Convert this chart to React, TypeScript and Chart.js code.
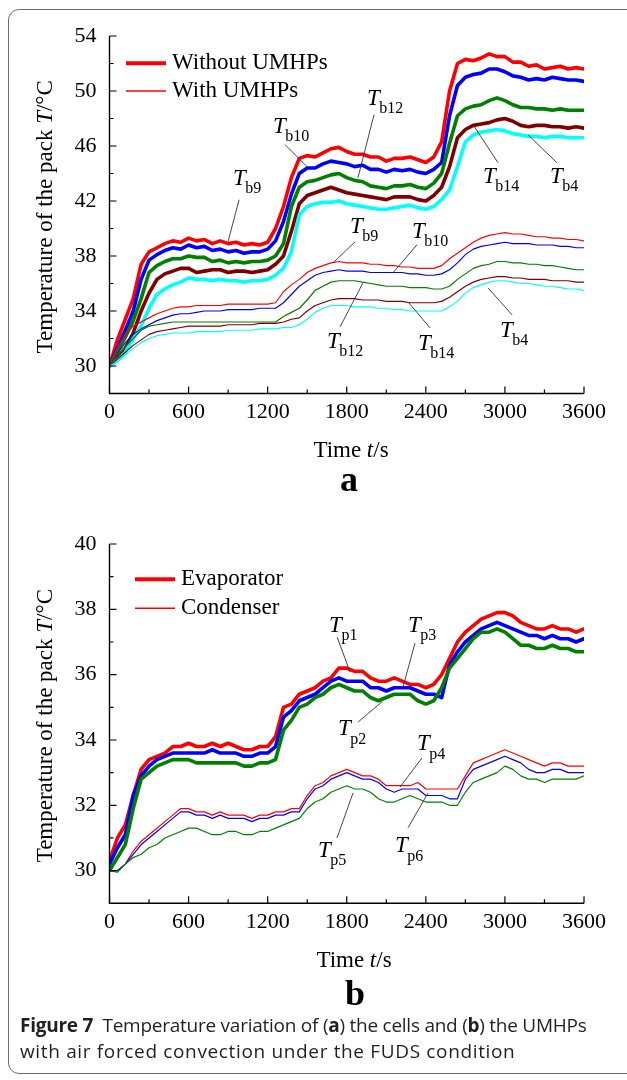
import React, { useEffect, useRef } from "react";
import { Chart, registerables } from "chart.js";
Chart.register(...registerables);

const SERIF = "'Liberation Serif', 'Times New Roman', Times, serif";

// ---------- shared time axis (s) ----------
const time = [
  0, 60, 120, 180, 240, 300, 360, 420, 480, 540, 600, 660, 720, 780, 840, 900, 960, 1020, 1080, 1140, 1200,
  1260, 1320, 1380, 1440, 1500, 1560, 1620, 1680, 1740, 1800, 1860, 1920, 1980, 2040, 2100, 2160, 2220, 2280,
  2340, 2400, 2460, 2520, 2580, 2640, 2700, 2760, 2820, 2880, 2940, 3000, 3060, 3120, 3180, 3240, 3300, 3360,
  3420, 3480, 3540, 3600,
];
const xTicks = [0, 600, 1200, 1800, 2400, 3000, 3600];
const xMinor = [300, 900, 1500, 2100, 2700, 3300];

// ---------- panel a: cells, without UMHPs (thick) ----------
const aTb9Without = [30.0, 31.9, 33.4, 34.9, 37.4, 38.3, 38.6, 38.9, 39.1, 39.0, 39.3, 39.1, 39.2, 38.9, 39.1, 38.9, 39.0, 38.8, 38.9, 38.8, 39.0, 40.0, 41.6, 43.7, 45.1, 45.3, 45.2, 45.5, 45.8, 45.9, 45.6, 45.4, 45.4, 45.2, 45.2, 44.9, 45.1, 45.1, 45.2, 45.0, 44.8, 45.2, 46.3, 50.0, 52.0, 52.3, 52.2, 52.4, 52.7, 52.5, 52.5, 52.1, 52.1, 51.8, 51.9, 51.6, 51.7, 51.8, 51.6, 51.7, 51.6];
const aTb10Without = [30.0, 31.3, 32.6, 34.0, 36.3, 37.7, 38.1, 38.4, 38.6, 38.5, 38.8, 38.6, 38.7, 38.4, 38.5, 38.3, 38.4, 38.2, 38.3, 38.3, 38.5, 39.1, 40.5, 42.5, 44.0, 44.4, 44.4, 44.7, 44.9, 44.8, 44.7, 44.5, 44.6, 44.3, 44.3, 44.1, 44.3, 44.2, 44.3, 44.1, 44.0, 44.3, 44.8, 48.2, 50.4, 51.0, 51.2, 51.3, 51.6, 51.6, 51.4, 51.1, 51.0, 50.8, 50.9, 50.8, 51.0, 50.9, 50.8, 50.8, 50.7];
const aTb12Without = [30.0, 31.1, 32.1, 33.3, 34.9, 36.8, 37.3, 37.6, 37.8, 37.8, 38.0, 37.9, 37.9, 37.6, 37.7, 37.5, 37.6, 37.5, 37.6, 37.6, 37.7, 38.0, 38.9, 41.6, 43.0, 43.4, 43.5, 43.7, 43.9, 44.0, 43.7, 43.5, 43.4, 43.1, 43.0, 42.9, 43.1, 43.1, 43.2, 43.0, 42.9, 43.3, 44.0, 46.2, 48.2, 48.7, 48.9, 49.0, 49.3, 49.5, 49.3, 49.0, 48.8, 48.8, 48.7, 48.7, 48.6, 48.7, 48.6, 48.6, 48.6];
const aTb14Without = [30.0, 30.6, 31.3, 32.4, 34.0, 35.3, 36.3, 36.7, 36.9, 37.1, 37.1, 36.8, 36.9, 37.0, 37.0, 36.8, 36.9, 36.9, 36.8, 36.9, 37.0, 37.4, 38.0, 39.8, 41.8, 42.4, 42.6, 42.8, 43.0, 42.8, 42.6, 42.5, 42.4, 42.3, 42.2, 42.1, 42.3, 42.3, 42.3, 42.1, 42.0, 42.4, 43.0, 44.5, 46.6, 47.2, 47.5, 47.6, 47.7, 47.9, 48.0, 47.8, 47.5, 47.4, 47.5, 47.5, 47.4, 47.4, 47.3, 47.4, 47.3];
const aTb4Without = [30.0, 30.4, 31.0, 32.0, 32.9, 34.2, 35.2, 35.6, 35.9, 36.1, 36.4, 36.3, 36.3, 36.2, 36.3, 36.2, 36.2, 36.1, 36.2, 36.2, 36.3, 36.6, 37.1, 38.3, 41.0, 41.6, 41.8, 41.9, 41.9, 42.0, 41.8, 41.7, 41.6, 41.5, 41.4, 41.4, 41.5, 41.6, 41.7, 41.5, 41.4, 41.6, 42.1, 42.8, 44.5, 46.3, 46.8, 47.0, 47.1, 47.2, 47.1, 46.9, 46.8, 46.7, 46.7, 46.6, 46.7, 46.7, 46.6, 46.6, 46.6];

// ---------- panel a: cells, with UMHPs (thin) ----------
const aTb9With = [30.0, 31.3, 32.3, 32.9, 33.2, 33.5, 33.8, 34.0, 34.2, 34.3, 34.3, 34.4, 34.4, 34.4, 34.4, 34.5, 34.5, 34.5, 34.5, 34.5, 34.5, 34.6, 35.4, 35.9, 36.3, 36.8, 37.1, 37.3, 37.5, 37.6, 37.5, 37.5, 37.5, 37.4, 37.4, 37.3, 37.3, 37.2, 37.2, 37.1, 37.1, 37.1, 37.3, 37.8, 38.2, 38.6, 39.0, 39.3, 39.5, 39.6, 39.7, 39.6, 39.6, 39.5, 39.4, 39.4, 39.3, 39.3, 39.2, 39.2, 39.1];
const aTb10With = [30.0, 30.9, 31.7, 32.3, 32.7, 33.0, 33.3, 33.5, 33.7, 33.8, 33.8, 33.9, 34.0, 34.0, 34.0, 34.1, 34.1, 34.1, 34.1, 34.2, 34.2, 34.2, 34.6, 35.2, 35.8, 36.2, 36.6, 36.8, 36.9, 37.0, 36.9, 36.9, 36.9, 36.8, 36.8, 36.8, 36.8, 36.8, 36.7, 36.7, 36.6, 36.6, 36.7, 37.0, 37.5, 38.1, 38.5, 38.7, 38.8, 38.9, 39.0, 38.9, 38.9, 38.9, 38.8, 38.8, 38.8, 38.7, 38.7, 38.6, 38.6];
const aTb12With = [30.0, 30.8, 31.4, 32.0, 32.6, 32.9, 33.0, 33.1, 33.2, 33.2, 33.2, 33.2, 33.2, 33.2, 33.2, 33.2, 33.2, 33.2, 33.2, 33.2, 33.2, 33.2, 33.6, 33.9, 34.2, 34.8, 35.5, 35.8, 36.1, 36.2, 36.2, 36.2, 36.1, 36.0, 35.9, 35.8, 35.8, 35.8, 35.7, 35.7, 35.7, 35.6, 35.6, 35.8, 36.3, 36.7, 37.1, 37.3, 37.4, 37.6, 37.6, 37.5, 37.5, 37.4, 37.4, 37.3, 37.3, 37.2, 37.1, 37.0, 37.0];
const aTb14With = [30.0, 30.5, 31.0, 31.5, 31.9, 32.3, 32.5, 32.6, 32.7, 32.8, 32.9, 32.9, 32.9, 32.9, 32.9, 33.0, 33.0, 33.0, 33.0, 33.1, 33.1, 33.1, 33.2, 33.4, 33.5, 34.0, 34.4, 34.6, 34.8, 34.9, 34.9, 34.9, 34.8, 34.8, 34.8, 34.7, 34.7, 34.7, 34.6, 34.6, 34.6, 34.6, 34.7, 35.0, 35.4, 35.8, 36.1, 36.3, 36.4, 36.5, 36.5, 36.4, 36.4, 36.3, 36.3, 36.3, 36.2, 36.2, 36.2, 36.1, 36.1];
const aTb4With = [30.0, 30.3, 30.8, 31.3, 31.7, 32.0, 32.2, 32.3, 32.4, 32.4, 32.4, 32.5, 32.5, 32.5, 32.5, 32.6, 32.6, 32.6, 32.6, 32.7, 32.7, 32.7, 32.8, 32.8, 33.0, 33.4, 33.9, 34.2, 34.4, 34.4, 34.4, 34.3, 34.3, 34.3, 34.2, 34.2, 34.1, 34.1, 34.0, 34.0, 34.0, 34.0, 34.0, 34.3, 34.7, 35.3, 35.7, 35.9, 36.1, 36.2, 36.2, 36.1, 36.0, 36.0, 35.9, 35.8, 35.8, 35.7, 35.6, 35.6, 35.5];

// ---------- panel b: UMHPs, evaporator (thick) ----------
const bTp1Evap = [30.3, 31.0, 31.4, 32.3, 33.1, 33.4, 33.5, 33.6, 33.8, 33.8, 33.9, 33.8, 33.8, 33.9, 33.8, 33.9, 33.8, 33.7, 33.7, 33.8, 33.8, 34.1, 35.0, 35.1, 35.4, 35.5, 35.6, 35.8, 35.9, 36.2, 36.2, 36.1, 36.1, 35.9, 35.8, 35.8, 35.9, 35.8, 35.7, 35.7, 35.6, 35.7, 36.0, 36.5, 37.0, 37.3, 37.5, 37.7, 37.8, 37.9, 37.9, 37.8, 37.6, 37.5, 37.4, 37.4, 37.5, 37.4, 37.4, 37.3, 37.4];
const bTp3Evap = [30.2, 30.7, 31.1, 32.3, 32.9, 33.2, 33.4, 33.5, 33.6, 33.6, 33.6, 33.6, 33.6, 33.7, 33.6, 33.6, 33.6, 33.5, 33.5, 33.6, 33.6, 33.8, 34.7, 34.9, 35.2, 35.3, 35.4, 35.6, 35.8, 35.9, 35.8, 35.8, 35.8, 35.6, 35.6, 35.5, 35.6, 35.6, 35.6, 35.5, 35.4, 35.4, 35.3, 36.3, 36.7, 37.0, 37.2, 37.4, 37.5, 37.6, 37.5, 37.4, 37.3, 37.2, 37.2, 37.1, 37.2, 37.1, 37.1, 37.0, 37.1];
const bTp2Evap = [30.0, 30.4, 30.8, 31.9, 32.8, 33.0, 33.2, 33.3, 33.4, 33.4, 33.4, 33.3, 33.3, 33.3, 33.3, 33.3, 33.3, 33.2, 33.2, 33.3, 33.3, 33.4, 34.3, 34.6, 35.0, 35.1, 35.3, 35.4, 35.6, 35.7, 35.6, 35.5, 35.5, 35.3, 35.2, 35.3, 35.4, 35.4, 35.4, 35.2, 35.1, 35.2, 35.6, 36.2, 36.5, 36.8, 37.1, 37.3, 37.3, 37.4, 37.3, 37.1, 36.9, 36.9, 36.8, 36.8, 36.9, 36.8, 36.8, 36.7, 36.7];

// ---------- panel b: UMHPs, condenser (thin) ----------
const bTp4Cond = [30.0, 30.0, 30.2, 30.6, 30.9, 31.1, 31.3, 31.5, 31.7, 31.9, 31.9, 31.8, 31.8, 31.7, 31.8, 31.7, 31.7, 31.7, 31.6, 31.7, 31.7, 31.8, 31.8, 31.9, 31.9, 32.3, 32.6, 32.7, 32.9, 33.0, 33.1, 33.0, 32.9, 32.9, 32.8, 32.6, 32.6, 32.6, 32.6, 32.7, 32.5, 32.5, 32.5, 32.5, 32.5, 32.9, 33.3, 33.4, 33.5, 33.6, 33.7, 33.6, 33.5, 33.4, 33.3, 33.2, 33.3, 33.3, 33.2, 33.2, 33.2];
const bTp5Cond = [30.0, 30.0, 30.2, 30.5, 30.8, 31.0, 31.2, 31.4, 31.6, 31.8, 31.8, 31.7, 31.7, 31.6, 31.7, 31.6, 31.6, 31.6, 31.5, 31.6, 31.6, 31.7, 31.7, 31.8, 31.8, 32.2, 32.5, 32.6, 32.8, 32.9, 33.0, 32.9, 32.8, 32.8, 32.7, 32.5, 32.4, 32.5, 32.5, 32.5, 32.3, 32.3, 32.3, 32.2, 32.2, 32.8, 33.1, 33.2, 33.3, 33.4, 33.5, 33.4, 33.3, 33.1, 33.0, 33.0, 33.1, 33.1, 33.0, 33.0, 33.0];
const bTp6Cond = [30.0, 29.95, 30.2, 30.4, 30.5, 30.7, 30.8, 31.0, 31.1, 31.2, 31.3, 31.3, 31.2, 31.1, 31.1, 31.2, 31.2, 31.1, 31.1, 31.2, 31.2, 31.3, 31.4, 31.5, 31.6, 31.9, 32.1, 32.2, 32.4, 32.5, 32.6, 32.5, 32.5, 32.4, 32.2, 32.1, 32.1, 32.2, 32.3, 32.2, 32.1, 32.1, 32.1, 32.0, 32.0, 32.4, 32.7, 32.8, 32.9, 33.0, 33.2, 33.1, 32.9, 32.8, 32.8, 32.7, 32.8, 32.8, 32.8, 32.8, 32.9];

// ---------- ticks, legends, labels ----------
const yTicksA = [30, 34, 38, 42, 46, 50, 54];
const yMinorA = [32, 36, 40, 44, 48, 52];
const yTicksB = [30, 32, 34, 36, 38, 40];
const yMinorB = [31, 33, 35, 37, 39];
const legendA = ["Without UMHPs", "With UMHPs"];
const legendB = ["Evaporator", "Condenser"];

// annotation: subscript text, label anchor (t, T) and leader line (t1, T1, t2, T2)
const annotA = [
  { sub: "b10", t: 1240, v: 46.97, l: [1332, 46.1, 1506, 44.42] },
  { sub: "b9", t: 937, v: 43.19, l: [983, 42.09, 899, 39.03] },
  { sub: "b12", t: 1954, v: 49.01, l: [2007, 48.28, 1885, 43.69] },
  { sub: "b14", t: 2834, v: 43.32, l: [2948, 44.78, 2758, 47.55] },
  { sub: "b4", t: 3342, v: 43.32, l: [3395, 44.78, 3175, 46.82] },
  { sub: "b9", t: 1825, v: 39.69, l: [1863, 39.03, 1696, 37.5] },
  { sub: "b10", t: 2295, v: 39.33, l: [2333, 38.82, 2151, 36.78] },
  { sub: "b12", t: 1650, v: 31.31, l: [1749, 32.84, 1923, 36.05] },
  { sub: "b14", t: 2341, v: 31.17, l: [2432, 32.77, 2265, 34.66] },
  { sub: "b4", t: 2963, v: 32.11, l: [3054, 33.72, 2872, 35.68] },
];
const annotB = [
  { sub: "p1", t: 1666, v: 37.31, l: [1727, 37.15, 1825, 36.08] },
  { sub: "p3", t: 2265, v: 37.31, l: [2318, 36.97, 2227, 35.62] },
  { sub: "p2", t: 1734, v: 34.15, l: [1886, 34.55, 2068, 35.17] },
  { sub: "p4", t: 2333, v: 33.69, l: [2371, 33.45, 2204, 32.56] },
  { sub: "p5", t: 1582, v: 30.42, l: [1726, 31.0, 1848, 32.38] },
  { sub: "p6", t: 2166, v: 30.57, l: [2265, 31.31, 2417, 32.38] },
];

const RED = "#ff0000";
const BLUE = "#0000ff";
const GREEN = "#008000";
const MAROON = "#800000";
const CYAN = "#00ffff";
const THICK = 3.6;
const THIN = 1.2;

type Seg = [string, string];

function drawSegs(ctx: CanvasRenderingContext2D, segs: Seg[], cx: number, cy: number, rot: boolean) {
  ctx.save();
  ctx.translate(cx, cy);
  if (rot) ctx.rotate(-Math.PI / 2);
  let w = 0;
  for (const [t, f] of segs) {
    ctx.font = f;
    w += ctx.measureText(t).width;
  }
  let x = -w / 2;
  ctx.textAlign = "left";
  for (const [t, f] of segs) {
    ctx.font = f;
    ctx.fillText(t, x, 0);
    x += ctx.measureText(t).width;
  }
  ctx.restore();
}

interface PanelCfg {
  series: { data: number[]; color: string; width: number }[];
  yMin: number;
  yMax: number;
  yTicks: number[];
  yMinor: number[];
  padTop: number;
  xHeight: number;
  legend: string[];
  legendX0: number;
  legendY: number[];
  annots: { sub: string; t: number; v: number; l: number[] }[];
  xTitleBase: number;
  xTitleCX: number;
  panel: string;
  panelBase: number;
  panelCX: number;
}

function buildConfig(p: PanelCfg): any {
  const decor = {
    id: "decor",
    afterDraw(chart: any) {
      const { ctx, chartArea: ca } = chart;
      const x = chart.scales.x;
      const y = chart.scales.y;
      ctx.save();
      // axes
      ctx.strokeStyle = "#000";
      ctx.lineWidth = 1.4;
      ctx.beginPath();
      ctx.moveTo(ca.left, ca.top);
      ctx.lineTo(ca.left, ca.bottom);
      ctx.lineTo(ca.right, ca.bottom);
      ctx.stroke();
      // inward ticks
      ctx.lineWidth = 1.2;
      ctx.beginPath();
      for (const v of xTicks) {
        const px = x.getPixelForValue(v);
        ctx.moveTo(px, ca.bottom);
        ctx.lineTo(px, ca.bottom - 7);
      }
      for (const v of xMinor) {
        const px = x.getPixelForValue(v);
        ctx.moveTo(px, ca.bottom);
        ctx.lineTo(px, ca.bottom - 4);
      }
      for (const v of p.yTicks) {
        const py = y.getPixelForValue(v);
        ctx.moveTo(ca.left, py);
        ctx.lineTo(ca.left + 7, py);
      }
      for (const v of p.yMinor) {
        const py = y.getPixelForValue(v);
        ctx.moveTo(ca.left, py);
        ctx.lineTo(ca.left + 4, py);
      }
      ctx.moveTo(ca.left, ca.top);
      ctx.lineTo(ca.left + 7, ca.top);
      ctx.stroke();

      // annotations
      ctx.fillStyle = "#000";
      ctx.textBaseline = "alphabetic";
      ctx.textAlign = "left";
      for (const a of p.annots) {
        ctx.strokeStyle = "#333";
        ctx.lineWidth = 0.9;
        ctx.beginPath();
        ctx.moveTo(x.getPixelForValue(a.l[0]), y.getPixelForValue(a.l[1]));
        ctx.lineTo(x.getPixelForValue(a.l[2]), y.getPixelForValue(a.l[3]));
        ctx.stroke();
        const tx = x.getPixelForValue(a.t);
        const ty = y.getPixelForValue(a.v);
        ctx.font = `italic 23px ${SERIF}`;
        ctx.fillText("T", tx, ty);
        const tw = ctx.measureText("T").width;
        ctx.font = `16px ${SERIF}`;
        ctx.fillText(a.sub, tx + tw - 0.5, ty + 8.5);
      }

      // legend
      ctx.textBaseline = "middle";
      ctx.font = `23px ${SERIF}`;
      p.legend.forEach((lab, i) => {
        const ly = p.legendY[i];
        ctx.strokeStyle = RED;
        ctx.lineWidth = i === 0 ? 4 : 1.4;
        ctx.beginPath();
        ctx.moveTo(p.legendX0, ly);
        ctx.lineTo(p.legendX0 + 40, ly);
        ctx.stroke();
        ctx.fillStyle = "#000";
        ctx.fillText(lab, p.legendX0 + 46, ly - 0.5);
      });

      // axis titles
      ctx.textBaseline = "middle";
      drawSegs(
        ctx,
        [
          ["Temperature of the pack ", `23px ${SERIF}`],
          ["T", `italic 23px ${SERIF}`],
          ["/°C", `23px ${SERIF}`],
        ],
        46,
        (ca.top + ca.bottom) / 2 + 2,
        true
      );
      ctx.textBaseline = "alphabetic";
      drawSegs(
        ctx,
        [
          ["Time ", `23px ${SERIF}`],
          ["t", `italic 23px ${SERIF}`],
          ["/s", `23px ${SERIF}`],
        ],
        p.xTitleCX,
        p.xTitleBase,
        false
      );
      drawSegs(ctx, [[p.panel, `bold 36px ${SERIF}`]], p.panelCX, p.panelBase, false);
      ctx.restore();
    },
  };

  return {
    type: "line",
    data: {
      datasets: p.series.map((s) => ({
        data: time.map((t, i) => ({ x: t, y: s.data[i] })),
        borderColor: s.color,
        borderWidth: s.width,
        pointRadius: 0,
        fill: false,
        tension: 0,
      })),
    },
    options: {
      responsive: false,
      animation: false,
      devicePixelRatio: 1,
      layout: { padding: { top: p.padTop, right: 43, left: 0, bottom: 0 } },
      plugins: { legend: { display: false }, tooltip: { enabled: false } },
      elements: { line: { borderJoinStyle: "round", borderCapStyle: "round" } },
      scales: {
        x: {
          type: "linear",
          min: 0,
          max: 3600,
          afterFit: (s: any) => {
            s.height = p.xHeight;
          },
          afterBuildTicks: (s: any) => {
            s.ticks = xTicks.map((v) => ({ value: v }));
          },
          grid: { display: false, drawTicks: false },
          border: { display: false },
          ticks: {
            font: { family: SERIF, size: 22 },
            color: "#000",
            padding: 6,
            maxRotation: 0,
            autoSkip: false,
            callback: (v: any) => String(v),
          },
        },
        y: {
          type: "linear",
          min: p.yMin,
          max: p.yMax,
          afterFit: (s: any) => {
            s.width = 109.5;
          },
          afterBuildTicks: (s: any) => {
            s.ticks = p.yTicks.map((v) => ({ value: v }));
          },
          grid: { display: false, drawTicks: false },
          border: { display: false },
          ticks: {
            font: { family: SERIF, size: 22 },
            color: "#000",
            padding: 13,
            autoSkip: false,
            callback: (v: any) => String(v),
          },
        },
      },
    },
    plugins: [decor],
  };
}

function Panel({ top, height, cfg }: { top: number; height: number; cfg: PanelCfg }) {
  const ref = useRef<HTMLCanvasElement>(null);
  useEffect(() => {
    const chart = new Chart(ref.current as HTMLCanvasElement, buildConfig(cfg));
    return () => chart.destroy();
  }, []);
  return (
    <canvas
      ref={ref}
      width={627}
      height={height}
      style={{ position: "absolute", left: 0, top, width: 627, height, display: "block" }}
    />
  );
}

const cfgA: PanelCfg = {
  series: [
    { data: aTb4With, color: CYAN, width: THIN },
    { data: aTb14With, color: MAROON, width: THIN },
    { data: aTb12With, color: GREEN, width: THIN },
    { data: aTb10With, color: BLUE, width: THIN },
    { data: aTb9With, color: RED, width: THIN },
    { data: aTb4Without, color: CYAN, width: THICK },
    { data: aTb14Without, color: MAROON, width: THICK },
    { data: aTb12Without, color: GREEN, width: THICK },
    { data: aTb10Without, color: BLUE, width: THICK },
    { data: aTb9Without, color: RED, width: THICK },
  ],
  yMin: 28,
  yMax: 54,
  yTicks: yTicksA,
  yMinor: yMinorA,
  padTop: 36,
  xHeight: 505 - 393.5,
  legend: legendA,
  legendX0: 126,
  legendY: [63.3, 91],
  annots: annotA,
  xTitleBase: 456.5,
  xTitleCX: 351,
  panel: "a",
  panelBase: 491,
  panelCX: 349,
};

const cfgB: PanelCfg = {
  series: [
    { data: bTp6Cond, color: GREEN, width: THIN },
    { data: bTp5Cond, color: BLUE, width: THIN },
    { data: bTp4Cond, color: RED, width: THIN },
    { data: bTp2Evap, color: GREEN, width: THICK },
    { data: bTp3Evap, color: BLUE, width: THICK },
    { data: bTp1Evap, color: RED, width: THICK },
  ],
  yMin: 29,
  yMax: 40,
  yTicks: yTicksB,
  yMinor: yMinorB,
  padTop: 544 - 505,
  xHeight: 515 - (903.3 - 505),
  legend: legendB,
  legendX0: 135,
  legendY: [579.3 - 505, 608.3 - 505],
  annots: annotB,
  xTitleBase: 967.3 - 505,
  xTitleCX: 354,
  panel: "b",
  panelBase: 1005 - 505,
  panelCX: 355,
};

export default function App() {
  return (
    <div
      style={{
        position: "absolute",
        left: 0,
        top: 0,
        width: 627,
        height: 1080,
        overflow: "hidden",
        background: "#fff",
      }}
    >
      <div
        style={{
          position: "absolute",
          left: 8,
          top: 9,
          width: 700,
          height: 1065,
          border: "1.5px solid #6d6e71",
          borderRadius: 11,
          boxSizing: "border-box",
        }}
      />
      <Panel top={0} height={505} cfg={cfgA} />
      <Panel top={505} height={515} cfg={cfgB} />
      <div
        style={{
          position: "absolute",
          left: 20,
          top: 1012,
          width: 600,
          fontFamily: "'Open Sans', 'Noto Sans', sans-serif",
          fontSize: 19,
          lineHeight: "26px",
          color: "#231f20",
          whiteSpace: "nowrap",
        }}
      >
        <div style={{ letterSpacing: "-0.25px" }}>
          <b>Figure 7</b>&nbsp;&nbsp;Temperature variation of (<b>a</b>) the cells and (<b>b</b>) the UMHPs
        </div>
        <div style={{ letterSpacing: "0.65px" }}>with air forced convection under the FUDS condition</div>
      </div>
    </div>
  );
}
